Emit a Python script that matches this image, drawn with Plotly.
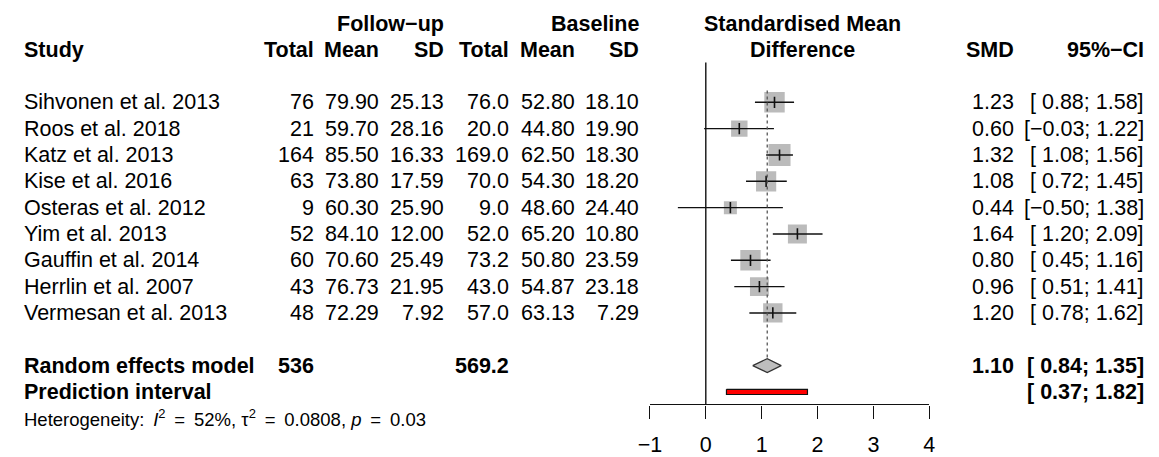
import plotly.graph_objects as go
import numpy as np

# ---- data ----
studies = ["Sihvonen et al. 2013", "Roos et al. 2018", "Katz et al. 2013",
           "Kise et al. 2016", "Osteras et al. 2012", "Yim et al. 2013",
           "Gauffin et al. 2014", "Herrlin et al. 2007", "Vermesan et al. 2013"]
fu_total = [76, 21, 164, 63, 9, 52, 60, 43, 48]
fu_mean = [79.90, 59.70, 85.50, 73.80, 60.30, 84.10, 70.60, 76.73, 72.29]
fu_sd = [25.13, 28.16, 16.33, 17.59, 25.90, 12.00, 25.49, 21.95, 7.92]
bl_total = [76.0, 20.0, 169.0, 70.0, 9.0, 52.0, 73.2, 43.0, 57.0]
bl_mean = [52.80, 44.80, 62.50, 54.30, 48.60, 65.20, 50.80, 54.87, 63.13]
bl_sd = [18.10, 19.90, 18.30, 18.20, 24.40, 10.80, 23.59, 23.18, 7.29]
smd = [1.23, 0.60, 1.32, 1.08, 0.44, 1.64, 0.80, 0.96, 1.20]
ci_lo = [0.88, -0.03, 1.08, 0.72, -0.50, 1.20, 0.45, 0.51, 0.78]
ci_hi = [1.58, 1.22, 1.56, 1.45, 1.38, 2.09, 1.16, 1.41, 1.62]

re_smd, re_lo, re_hi = 1.10, 0.84, 1.35
pi_lo, pi_hi = 0.37, 1.82
i2, tau2, p_het = 52, 0.0808, 0.03
axis_ticks = [-1, 0, 1, 2, 3, 4]

# ---- page geometry (pixels) ----
W, H = 1159, 457
ROW0, DY = 103.0, 26.5          # first study row centre and row pitch
AXIS_PX = 407.0                 # x-axis line
X_LEFT, X_RIGHT = 648.0, 931.7  # pixel positions of -1 and 4

def row_of(px):
    return (px - ROW0) / DY

def px_x(px):
    return px / W

def py(px):
    return (H - px) / H

FONT = "Liberation Sans, Arial, sans-serif"
FS = 21.5
FS_HET = 18.5
TS = "\u2009"  # thin space for the math-style spacing round "="

n = len(studies)
rows = list(range(n))
r_re = n + 1
r_pi = n + 2
r_het = n + 3

fig = go.Figure()

# square sizes from random-effects weights
se = (np.array(ci_hi) - np.array(ci_lo)) / (2 * 1.959964)
w = 1.0 / (se ** 2 + tau2)
sq = 6.27 * np.sqrt(w) + 1.75

fig.add_trace(go.Scatter(
    x=smd, y=rows, mode="markers", opacity=1,
    marker=dict(symbol="square", size=sq, color="#BBBBBB", opacity=1,
                line=dict(width=0)),
    hoverinfo="skip", showlegend=False))

# confidence interval lines
cx, cy = [], []
for lo, hi, r in zip(ci_lo, ci_hi, rows):
    cx += [lo, hi, None]
    cy += [r, r, None]
fig.add_trace(go.Scatter(x=cx, y=cy, mode="lines",
                         line=dict(color="#111111", width=1.4),
                         hoverinfo="skip", showlegend=False))

# point estimates
fig.add_trace(go.Scatter(
    x=smd, y=rows, mode="markers",
    marker=dict(symbol="line-ns", size=8, line=dict(color="#111111", width=1.6)),
    hoverinfo="skip", showlegend=False))

# summary diamond
hh = 7.0 / DY
fig.add_trace(go.Scatter(
    x=[re_lo, re_smd, re_hi, re_smd, re_lo],
    y=[r_re, r_re - hh, r_re, r_re + hh, r_re],
    mode="lines", fill="toself", fillcolor="#BEBEBE",
    line=dict(color="#333333", width=1.3),
    hoverinfo="skip", showlegend=False))

# prediction interval bar
ph = 2.6 / DY
fig.add_trace(go.Scatter(
    x=[pi_lo, pi_hi, pi_hi, pi_lo, pi_lo],
    y=[r_pi - ph, r_pi - ph, r_pi + ph, r_pi + ph, r_pi - ph],
    mode="lines", fill="toself", fillcolor="#FF0000",
    line=dict(color="#111111", width=1.2),
    hoverinfo="skip", showlegend=False))

shapes = [
    # line of no effect
    dict(type="line", xref="x", yref="paper", x0=0, x1=0,
         y0=py(63), y1=py(AXIS_PX), line=dict(color="#111111", width=1.4)),
    # summary estimate reference
    dict(type="line", xref="x", yref="y", x0=re_smd, x1=re_smd,
         y0=row_of(91), y1=r_re - hh, line=dict(color="#555555", width=1.3, dash="dot")),
]

ann = []

def text(xpx, r, s, anchor="right", size=FS, bold=False):
    if bold:
        s = f"<b>{s}</b>"
    ann.append(dict(x=px_x(xpx), y=r, xref="paper", yref="y", text=s,
                    xanchor=anchor, yanchor="middle", showarrow=False,
                    borderpad=0, borderwidth=0,
                    font=dict(family=FONT, size=size, color="#000000")))

def ci_str(lo, hi):
    def f(v):
        s = f"{abs(v):.2f}"
        return ("−" + s) if v < 0 else (" " + s)
    return f"[{f(lo)}; {hi:.2f}]"

# headers
h1, h2 = -2.98, -1.97
text(439, h1, "Follow−up", bold=True)
text(637, h1, "Baseline", bold=True)
text(803, h1, "Standardised Mean", anchor="center", bold=True)
text(12, h2, "Study", anchor="left", bold=True)
text(307, h2, "Total", bold=True)
text(373, h2, "Mean", bold=True)
text(439, h2, "SD", bold=True)
text(505, h2, "Total", bold=True)
text(572, h2, "Mean", bold=True)
text(637, h2, "SD", bold=True)
text(803, h2, "Difference", anchor="center", bold=True)
text(1018, h2, "SMD", bold=True)
text(1150, h2, "95%−CI", bold=True)

for i, r in enumerate(rows):
    text(12, r, studies[i], anchor="left")
    text(307, r, f"{fu_total[i]}")
    text(373, r, f"{fu_mean[i]:.2f}")
    text(439, r, f"{fu_sd[i]:.2f}")
    text(505, r, f"{bl_total[i]:.1f}")
    text(572, r, f"{bl_mean[i]:.2f}")
    text(637, r, f"{bl_sd[i]:.2f}")
    text(1018, r, f"{smd[i]:.2f}")
    text(1150, r, ci_str(ci_lo[i], ci_hi[i]))

text(12, r_re, "Random effects model", anchor="left", bold=True)
text(307, r_re, f"{sum(fu_total)}", bold=True)
text(505, r_re, f"{sum(bl_total):.1f}", bold=True)
text(1018, r_re, f"{re_smd:.2f}", bold=True)
text(1150, r_re, ci_str(re_lo, re_hi), bold=True)
text(12, r_pi, "Prediction interval", anchor="left", bold=True)
text(1150, r_pi, ci_str(pi_lo, pi_hi), bold=True)
text(12, r_het,
     f"Heterogeneity:{TS} <i>I</i><sup>2</sup>{TS} = {TS}{i2}%, "
     f"τ<sup>2</sup>{TS} = {TS}{tau2:.4f}, <i>p</i>{TS} = {TS}{p_het:.2f}",
     anchor="left", size=FS_HET)

fig.update_layout(
    width=W, height=H, autosize=False,
    margin=dict(l=0, r=0, t=0, b=0, pad=0),
    paper_bgcolor="white", plot_bgcolor="rgba(0,0,0,0)",
    shapes=shapes, annotations=ann, showlegend=False,
    xaxis=dict(domain=[X_LEFT / W, X_RIGHT / W], range=[-1, 4],
               anchor="free", position=py(AXIS_PX),
               showline=True, linecolor="#111111", linewidth=1.4,
               ticks="outside", ticklen=13, tickwidth=1.4, tickcolor="#111111",
               tickvals=axis_ticks, ticklabelstandoff=8,
               tickfont=dict(family=FONT, size=FS, color="#000000"),
               showgrid=False, zeroline=False, fixedrange=True),
    yaxis=dict(domain=[0, 1], range=[row_of(H), row_of(0)],
               visible=False, showgrid=False, zeroline=False, fixedrange=True),
)

fig.write_html("out.html")
